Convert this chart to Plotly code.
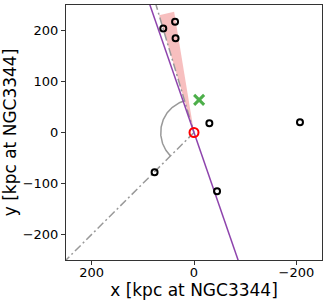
import numpy as np
import plotly.graph_objects as go

# Data (kpc at NGC3344)
sat_x = [60, 37, 36, -30, -207, 77, -45]
sat_y = [204, 217, 185, 18, 20, -78, -115]
host_x = [0]
host_y = [0]
cand_x = [-10]
cand_y = [64]

purple_angle = 71.0        # deg, line through host
gray_up_angle = 73.5       # deg
gray_down_angle = -45.0    # deg
wedge_angles = [73.5, 80.7]
wedge_radius = 240
arc_radius = 65

x_ticks = [200, 0, -200]
y_ticks = [200, 100, 0, -100, -200]

fig = go.Figure()

# pink wedge
a0, a1 = np.radians(wedge_angles)
fig.add_trace(go.Scatter(
    x=[0, wedge_radius*np.cos(a0), wedge_radius*np.cos(a1), 0],
    y=[0, wedge_radius*np.sin(a0), wedge_radius*np.sin(a1), 0],
    fill="toself", fillcolor="rgba(240,128,128,0.5)", line=dict(width=0),
    mode="lines", hoverinfo="skip", showlegend=False))

# gray dash-dot rays
R = 400
for ang in [gray_up_angle, gray_down_angle]:
    a = np.radians(ang)
    fig.add_trace(go.Scatter(x=[0, R*np.cos(a)], y=[0, R*np.sin(a)], mode="lines",
                             line=dict(color="#999999", width=1.5, dash="8px,3px,2px,3px"),
                             showlegend=False, hoverinfo="skip"))

# gray arc
t = np.radians(np.linspace(gray_down_angle, gray_up_angle, 100))
fig.add_trace(go.Scatter(x=arc_radius*np.cos(t), y=arc_radius*np.sin(t), mode="lines",
                         line=dict(color="#999999", width=1.5), showlegend=False, hoverinfo="skip"))

# purple line
a = np.radians(purple_angle)
fig.add_trace(go.Scatter(x=[-R*np.cos(a), R*np.cos(a)], y=[-R*np.sin(a), R*np.sin(a)], mode="lines",
                         line=dict(color="#8e44ad", width=1.5), showlegend=False, hoverinfo="skip"))

# satellites
fig.add_trace(go.Scatter(x=sat_x, y=sat_y, mode="markers",
                         marker=dict(symbol="circle-open", size=6, color="black", line=dict(width=2)),
                         showlegend=False))
# host
fig.add_trace(go.Scatter(x=host_x, y=host_y, mode="markers",
                         marker=dict(symbol="circle-open", size=9, color="red", line=dict(width=2)),
                         showlegend=False))
# candidate
fig.add_trace(go.Scatter(x=cand_x, y=cand_y, mode="markers",
                         marker=dict(symbol="x-thin-open", size=10, color="#4daf4a", line=dict(width=3)),
                         showlegend=False))

axis_common = dict(showgrid=False, zeroline=False, showline=True, mirror=True, automargin=False,
                   linecolor="#333333", linewidth=1, ticks="outside", ticklen=4,
                   tickcolor="#333333", tickfont=dict(family="DejaVu Sans", size=13, color="black"))

fig.update_layout(
    width=327, height=302,
    margin=dict(l=66, r=5, t=5, b=42),
    plot_bgcolor="white", paper_bgcolor="white",
    xaxis=dict(range=[250, -250], tickvals=x_ticks, ticktext=[str(v).replace("-", "\u2212") for v in x_ticks],
               ticklabelstandoff=-4,
               title=dict(text="x [kpc at NGC3344]", font=dict(family="DejaVu Sans", size=17, color="black"),
                          standoff=0),
               **axis_common),
    yaxis=dict(range=[-250, 250], tickvals=y_ticks, ticktext=[str(v).replace("-", "\u2212") for v in y_ticks],
               title=dict(text="y [kpc at NGC3344]", font=dict(family="DejaVu Sans", size=17, color="black")),
               **axis_common),
)

fig.write_html("out.html", config={"displayModeBar": False},
               post_script="document.body.style.margin='0';document.body.style.overflow='hidden';")
